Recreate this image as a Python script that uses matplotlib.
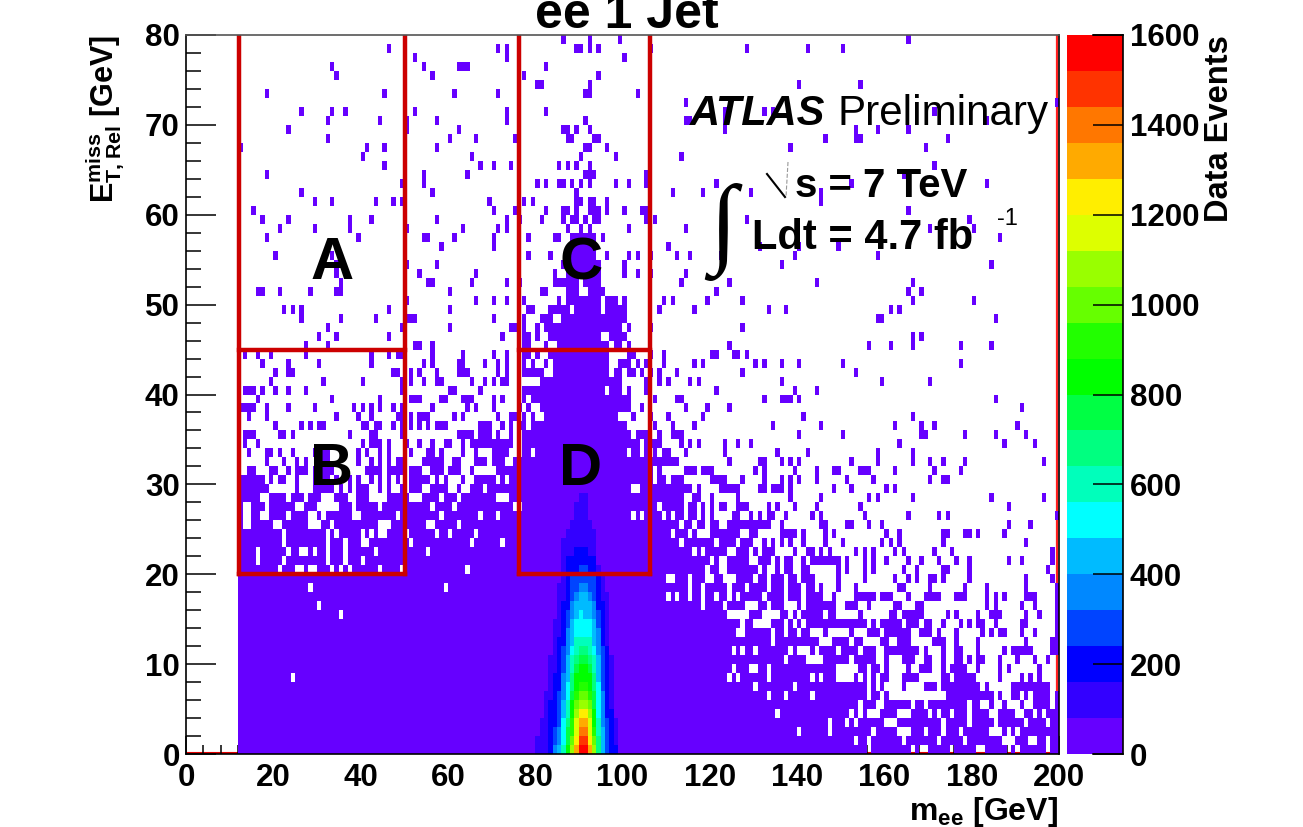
import numpy as np
import matplotlib
matplotlib.use("Agg")
import matplotlib.pyplot as plt
from matplotlib.colors import ListedColormap, BoundaryNorm

W, H = 1303, 827
plt.rcParams['font.family'] = ['Liberation Sans', 'DejaVu Sans']
plt.rcParams['font.weight'] = 'bold'
plt.rcParams['mathtext.fontset'] = 'custom'
plt.rcParams['mathtext.rm'] = 'Liberation Sans:bold'
plt.rcParams['mathtext.default'] = 'rm'

# occupied m_ee bins (1 GeV wide) of each ETmiss row, top row first
rows_79_to_66 = [
    "86 92 99 165", "46 71 73 89-90 92 94 106 128 142 150", "52 73 100", "33 54 62-64 82",
    "34 56 77 94", "80-81 92 140 154", "18 45 61 71 91-92 103", "114 199",
    "26 33 36 52 73 82 123 132 134 171", "32 44 50 57 73 91 114-115 123 183",
    "23 50 62 86-87 89 92 123 153 158 165", "32 60 66 75 87-88 93-94 146 153-154 174",
    "12 41 45 57 91-92 96 138 169", "40 65 90 98 113",
]
rows_65_to_52 = [
    "45 67 70 74 85 87 89 92 171", "18 54 64 91-93 105 164",
    "49 54 80 82 85-86 88 90 92 98 101 105 121 152 183", "26 56 89 111 118 129 145",
    "29 33 43 47 49 69 77 79 89-90 92-93 96 145",
    "15 70 75 82 86-87 89 92-94 96 100 104-105 165",
    "17 23 37 42 57 73 76 81 86 88-89 91 93-94 105 107 128 179",
    "21 29 37 50 63 71 73 87 90 92 101 114 170 180",
    "18 39 54-55 61 70 78 84-85 88-93 95 186", "58 70 88-93 110 131 140 149",
    "20 33 78 83 88-93 96 101 103 106 112 115 122 139 158", "34 50 57 86-94 100 136 184",
    "34 53 66 84 87-94 100 103 106 114", "35 55-56 65 73 76 84-89 91-94 113 124 144 166",
]
rows_51_to_32 = [
    "16-17 21 28 34-35 60 81-82 87-89 92-95 121 165 168",
    "50 66 70 73 77 85 87-94 96-98 100 109 111 119 127 166 180",
    "22 24 26 46 60 78-79 83-87 89-94 96-100 108 116 133 137 161 163",
    "26 35 43 50-52 70 77 81 82-83 86-100 158-159 185",
    "32 49 60 74-75 77 80 82-99 101 106 127",
    "30 34 46 72 77-78 80 83-94 97-100 166 168",
    "27 32 52-53 56 77-78 82 85-96 98-99 101 124 156 161 166 177 184",
    "13 16 19 27 42 46 48-49 56 63 70 73 77-78 80 83-96 101-102 106 109 120-121 125-126 128",
    "17 23 30 42 54 56 62-63 68 71 73 77 79 82 84-96 99-101 103 105 109 116 118 130 132 136 140 150 177",
    "20 23-24 47-48 51 53 57 62-64 71 73 77-81 84-96 98-99 101-102 104 106 108 112 127 153",
    "19 31 40 49 51 54 57-58 65 68 70 72-73 81-99 105 108 110 115 117 136 159 170",
    "13-15 17 20 23 27 49 60-61 67 77-95 97-99 101 105 121 139 144",
    "16 33 44 51-53 58-59 63-65 70 72 77 79-101 107 112-113 132 136-138 140 185",
    "12-15 18 23 29 38 40 42 44 47 49 56 64 66 70 76 78 81-101 104 114 119 124 191",
    "14 18 34 39 42 48-49 51 53-55 61 63 71 74-75 77 79 82-98 102 106 110 118 141 166",
    "20 26 28 30-31 40-41 43-44 47 49 51 53 55 57-59 67-69 72 74 76-77 79-100 107 111 116 134 145 162 168 171 190",
    "13-15 21-22 24 37 42-43 49 62-65 67-69 71 74 77-101 103-105 108 111-113 140 150 168-169 178 185 192",
    "13 16 40 42-44 46 50 53 56 59-60 63 65-74 77-103 105-108 113 115 117 123 126 129 163 187 194",
    "14 18-19 21 24 29-32 39 41 44 46 51 55-56 58 63 66 70-73 77-78 80-100 102-103 105 107 109-110 114 123 135 142 158 166",
    "18 22 25 27 30-32 39 42 44 46 48-49 54-58 61-62 66-68 70-72 75-112 124 131-132 136 138 140 152 158 166 170 173 178 196",
]
rows_31_to_20 = [
    "14-15 19-20 23 25-27 29-33 41-44 46-49 51-53 56-58 60-62 65 71-106 108 114-116 118-120 130 132 139 144 148-149 154-156 162 171 177",
    "12-17 19 21-22 25 29-32 34 37 39 42 44 46 48 51-55 57 59 63 66-70 72 74-106 108-109 111-113 120-123 127 132 136 138 140 144 151 157 170 173-174",
    "12-18 25 29-33 35 37 39-41 44 46 49 51-53 56-59 62 65-67 69-101 104-115 117 122-126 131-132 134-136 138 148 152 160 162",
    "12-16 19-22 24-26 28-30 34-36 39-41 46-50 54-57 59-61 63-70 74-113 116-117 120 126 138 145 156 158 166 184 196",
    "12 15-17 19-24 27-29 35-37 39-43 45-55 57-60 62-74 77-107 109-113 115-116 118 120 122-123 126-128 133 135 139 144 154 188",
    "12 15-16 19-22 24-27 30 32-37 40-47 49-57 59-66 68-70 72-101 103 105-108 110 112-113 115-116 118 120 125-126 129 131 133-134 137 143 145 155 165 172 174 199",
    "12 15-19 22-27 31-32 34-43 47-54 57-61 63-112 114-115 117-118 120-121 124-133 136 145-146 151-152 156 159 188 193",
    "12-21 23-31 33 35-39 41 43 46-49 51-56 58-59 61-65 67-110 112-114 116 120-126 129-130 136-139 141 146 148 160 163 173-174 178-179 181 187",
    "12-21 23-31 33-35 37-39 42-50 52-64 66-71 73-112 114-120 122-125 127-129 132 134 136 138 141 146 150 159 161 163 173 192",
    "12-15 17-22 24-25 28 30-31 33-35 37-42 44-54 56-115 117 119-123 126-128 130 132-134 139 142-143 145 147 153 155 157 162 164 171 175 198",
    "12-15 17-21 23-31 33-35 37-39 41-119 121 124-128 131-133 135 137-138 141 143-149 151 155 157 160 165 168 172 176 179 188 191 198",
    "12-20 22-24 27 30-32 34 36 38-43 45-48 50-63 65-118 120-121 124-130 132 135 137-138 141-142 149 151 155 157 164 167 173-174 179 197",
]
rows_19_to_0 = [
    "12-109 112-114 116-118 121-122 126-129 131-132 134-136 138-139 141-143 149 155 162 165 167 170-171 173 179 192 198",
    "12-27 29-58 60-114 116-117 119-123 125-127 129-132 134-136 138-140 142-143 145 149 153 163-164 170 178 183 192 199",
    "12-109 111 113-114 116-117 119-120 122-123 125 127-131 133-136 138-140 142-145 148 153-157 159-161 165 169-172 176-178 183 185 187 192-194 199",
    "12-29 31-117 119-122 124-127 131-132 134-136 140 142-148 151-153 156 162-163 167-168 183 185 191 194 199",
    "12-34 36-123 129-131 136-137 139 141-145 147-148 154 161-162 164-168 174 176 181 184-186 192 195 199",
    "12-126 128-129 134-136 138 140 142-155 157 159-163 165-167 169-170 173 177 179 181-182 185 191-192 199",
    "12-125 128-133 135-136 138-139 141-142 146 152 156-158 160-165 168-170 172 176 182 184 186-187 191 194 199",
    "12-133 135-144 148-151 153-154 159-160 163-165 171-173 176 181 192 198-199",
    "12-124 126 128-129 131-137 139 143 145-148 150-153 155-157 160-167 169 173 176-177 181 187 189-193 198-199",
    "12-136 138-141 146-151 153-157 160 164-166 169-170 173 176-177 179 181-182 186 190 194 197",
    "12-124 126-128 131-132 134-148 154-155 157-158 160 165 168-170 173 175-178 181 186 188 195",
    "12-23 25-123 125 127-132 134-142 144 146-148 153 155 157 159-160 164-167 173-174 176-180 186 191 193 195",
    "12-129 131-138 140-155 157 159 164 169-171 173-181 183 189-197",
    "12-132 134-136 138-142 144-155 157-158 160 174-184 186 189-190 192 194-197 199",
    "12-153 155-157 160-165 167-168 170-178 180-181 184 187 191 194-197 199",
    "12-134 136-151 153 155 159-162 166-169 171 173-174 176-178 180-183 186-189 192-193 195 197-199",
    "12-146 148-150 152 154-159 163-172 174-178 180-184 186-191 193-196 198-199",
    "12-139 141-146 148-156 158-162 166-168 170-172 174-176 178-183 187 189 191-199",
    "12-152 154-155 157-163 165-171 173-177 179-186 190-192 195-196 198-199",
    "12-155 157-165 167 170-174 176-180 183-187 189 191-196 198-199",
]

# colour band (1 = 0-80 events ... 20 = 1520-1600) of the Z peak, m_ee bins 80..98
peak_first_bin = 80
peak_bands_rows_0_to_19 = [
    [2,2,2,3,5,6,8,11,14,17,20,20,17,14,9,6,4,3,3],
    [2,2,2,3,4,5,7,10,13,16,19,19,16,13,9,6,4,3,2],
    [1,2,2,3,4,5,7,10,12,15,18,18,15,12,8,6,4,3,2],
    [1,2,2,3,3,4,7,9,12,15,17,17,15,11,8,5,4,3,2],
    [1,1,2,3,3,4,6,8,11,14,16,16,14,11,7,5,3,3,1],
    [1,1,2,3,3,4,6,8,11,13,14,14,13,10,7,5,3,2,1],
    [1,1,2,2,3,4,5,7,10,12,13,13,12,10,7,5,3,2,1],
    [1,1,1,2,3,3,5,7,9,11,12,12,11,9,7,4,3,2,1],
    [1,1,1,2,3,3,5,6,9,11,11,11,11,9,6,4,3,2,1],
    [1,1,1,2,2,3,4,6,8,10,11,11,10,8,6,4,3,2,1],
    [1,1,1,2,2,3,4,6,8,9,10,10,9,8,6,4,3,2,1],
    [1,1,1,1,2,3,4,5,7,8,9,9,8,7,5,4,3,1,1],
    [1,1,1,1,2,3,3,5,6,8,8,8,8,6,5,3,2,1,1],
    [1,1,1,1,2,2,3,5,6,7,7,7,7,6,5,3,2,1,1],
    [1,1,1,1,2,2,3,4,6,7,7,7,7,6,4,3,2,1,1],
    [1,1,1,1,1,2,3,4,5,6,7,6,6,5,4,3,2,1,1],
    [1,1,1,1,1,2,3,3,5,6,6,6,6,5,3,3,2,1,1],
    [1,1,1,1,1,2,2,3,4,5,6,6,5,4,3,2,2,1,1],
    [1,1,1,1,1,2,2,3,4,4,5,5,4,4,3,2,1,1,1],
    [1,1,1,1,1,1,2,3,4,4,4,4,4,4,3,2,1,1,1],
]
peak_bands_rows_20_to_28 = [
    [1,1,1,1,1,1,2,3,3,3,4,4,3,3,2,1,1,1,1],
    [1,1,1,1,1,1,2,3,3,3,3,3,3,3,1,1,1,1,1],
    [1,1,1,1,1,1,2,2,2,3,3,3,2,2,1,1,1,1,1],
    [1,1,1,1,1,1,2,2,2,2,2,2,2,2,1,1,1,1,1],
    [1,1,1,1,1,1,1,2,2,2,2,2,2,2,1,1,1,1,1],
    [1,1,1,1,1,1,1,1,2,2,2,2,2,1,1,1,1,1,1],
    [1,1,1,1,1,1,1,1,1,2,2,2,1,1,1,1,1,1,1],
    [1,1,1,1,1,1,1,1,1,2,2,2,1,1,1,1,1,1,1],
    [1,1,1,1,1,1,1,1,1,1,2,2,1,1,1,1,1,1,1],
]
band_colors = ["#6600ff", "#3300ff", "#0000ff", "#0044ff", "#0088ff", "#00bbff", "#00ffff",
               "#00ffbb", "#00ff80", "#00ff44", "#00ff00", "#22ff00", "#66ff00", "#99ff00",
               "#ddff00", "#ffee00", "#ffaa00", "#ff7700", "#ff3300", "#ff0000"]
band_edges = list(range(0, 1601, 80))
x_ticks = list(range(0, 201, 20))
y_ticks = list(range(0, 81, 10))
z_ticks = list(range(0, 1601, 200))
box_x_a = [12.2, 50.2]
box_x_c = [76.3, 106.3]
box_y = [20, 45, 80]


def parse(s):
    out = []
    for tok in s.split():
        if '-' in tok:
            a, b = tok.split('-')
            out.extend(range(int(a), int(b) + 1))
        else:
            out.append(int(tok))
    return out


counts = np.zeros((80, 200))
all_rows = rows_79_to_66 + rows_65_to_52 + rows_51_to_32 + rows_31_to_20 + rows_19_to_0
for k, s in enumerate(all_rows):
    counts[79 - k, parse(s)] = 40
peak_rows = peak_bands_rows_0_to_19 + peak_bands_rows_20_to_28
for j, bands in enumerate(peak_rows):
    for n, b in enumerate(bands):
        if b > 1:
            counts[j, peak_first_bin + n] = (b - 0.5) * 80

fig = plt.figure(figsize=(W / 100, H / 100), dpi=100)


def fx(px):
    return px / W


def fy(py):
    return 1 - py / H


ax = fig.add_axes([fx(186), fy(754), fx(873), 719 / H])
cmap = ListedColormap(band_colors)
cmap.set_bad((1, 1, 1, 0))
norm = BoundaryNorm(band_edges, cmap.N)
xe = np.arange(201)
ye = np.arange(81)

ax.plot([0, 200], [0.15, 0.15], color="#e00000", lw=1.5, zorder=1, solid_capstyle='butt')
ax.plot([199.6, 199.6], [0, 80], color="#ff2020", lw=1.6, zorder=1)
mesh = ax.pcolormesh(xe, ye, np.ma.masked_equal(counts, 0), cmap=cmap, norm=norm,
                     zorder=2, antialiased=False, linewidth=0)
ax.set_xlim(0, 200)
ax.set_ylim(0, 80)

red = "#cc0000"
for xs in (box_x_a, box_x_c):
    ax.plot([xs[0], xs[0]], [box_y[2], box_y[0]], color=red, lw=3.2, zorder=3)
    ax.plot([xs[1], xs[1]], [box_y[2], box_y[0]], color=red, lw=3.2, zorder=3)
    ax.plot(xs, [box_y[0], box_y[0]], color=red, lw=3.2, zorder=3, solid_capstyle='projecting')
    ax.plot(xs, [box_y[1], box_y[1]], color=red, lw=3.2, zorder=3, solid_capstyle='projecting')

ax.set_xticks(x_ticks)
ax.set_yticks(y_ticks)
ax.set_xticks(np.arange(0, 201, 4), minor=True)
ax.set_yticks(np.arange(0, 81, 2), minor=True)
ax.tick_params(axis='x', which='major', direction='in', length=13, width=1.1, pad=6.5, labelsize=22.5)
ax.tick_params(axis='x', which='minor', direction='in', length=6.5, width=1.1)
ax.tick_params(axis='y', which='major', direction='in', length=21.5, width=1.1, pad=4.5, labelsize=22.5)
ax.tick_params(axis='y', which='minor', direction='in', length=11, width=1.1)
for sp in ax.spines.values():
    sp.set_linewidth(1.2)
    sp.set_zorder(5)
ax.spines['top'].set_color("#555555")

cax = fig.add_axes([fx(1066.5), fy(754), fx(56.5), 719 / H])
cb = fig.colorbar(mesh, cax=cax, ticks=z_ticks, spacing='proportional')
cb.outline.set_visible(False)
cax.tick_params(axis='y', which='major', direction='in', length=21.5, width=1.1, pad=5, labelsize=22.5)
cax.tick_params(axis='y', which='minor', length=0)
cax.plot([1, 1], [0, 1], transform=cax.transAxes, color='black', lw=1.2, clip_on=False)
cax.plot([0.47, 1], [1, 1], transform=cax.transAxes, color='black', lw=1.2, clip_on=False)
cax.plot([0.47, 1], [0, 0], transform=cax.transAxes, color='black', lw=1.2, clip_on=False)

fig.text(fx(627), fy(28), "ee 1 Jet", fontsize=36, ha='center', va='baseline')
fig.text(fx(1219), fy(222), "Data Events", fontsize=23.5, rotation=90, ha='center', va='bottom')
fig.text(fx(1058), fy(820), r"$\mathrm{m_{ee}}$ [GeV]", fontsize=23, ha='right', va='baseline')
fig.text(fx(105), fy(35), r"$\mathrm{E}_{\mathrm{T,Rel}}^{\mathrm{miss}}$ [GeV]", fontsize=22,
         rotation=90, ha='center', va='top')

for label, px, py in [("A", 332, 279), ("C", 581, 279), ("B", 332, 485), ("D", 581, 485)]:
    fig.text(fx(px), fy(py), label, fontsize=43, ha='center', va='baseline', zorder=6)

fig.text(fx(690), fy(125), "ATLAS", fontsize=30, style='italic', weight='bold', va='baseline', zorder=6)
fig.text(fx(838), fy(125), "Preliminary", fontsize=30.3, weight='normal', va='baseline', zorder=6)
fig.text(fx(795), fy(197), "s = 7 TeV", fontsize=29, va='baseline', zorder=6)
fig.text(fx(752), fy(249), "Ldt = 4.7 fb", fontsize=30, va='baseline', zorder=6)
fig.text(fx(997), fy(225), "-1", fontsize=17, weight='normal', va='baseline', zorder=6)
fig.text(fx(723), fy(254), "\u222b", fontsize=72, family='Liberation Serif', weight='normal',
         ha='center', va='baseline', zorder=6)
fig.add_artist(plt.Line2D([fx(767), fx(785)], [fy(174), fy(197)], color='black', lw=1.5))
fig.add_artist(plt.Line2D([fx(788), fx(786)], [fy(162), fy(197)], color='#999999', lw=0.8, ls='--'))

fig.savefig("out.png", dpi=100)
